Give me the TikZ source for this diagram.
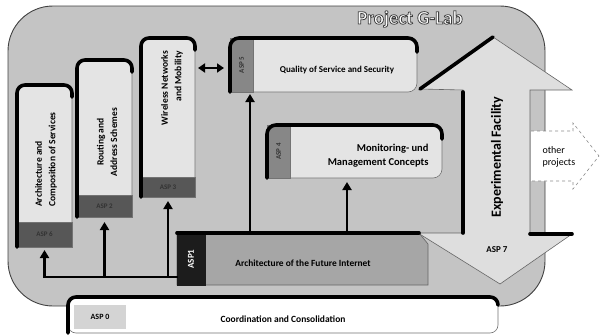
\documentclass[tikz,border=0pt]{standalone}
\usepackage{fontspec}
\setmainfont{Carlito}
\usetikzlibrary{arrows.meta,calc}

\definecolor{framefill}{HTML}{C4C4C4}
\definecolor{boxfill}{HTML}{E4E4E4}
\definecolor{facfill}{HTML}{DEDEDE}
\definecolor{tabdark}{HTML}{575757}
\definecolor{tabmid}{HTML}{878787}
\definecolor{asponefill}{HTML}{A6A6A6}
\definecolor{asponetab}{HTML}{1C1C1C}
\definecolor{tablight}{HTML}{D4D4D4}

% white letters with a thin dark stroke (text render mode 2)
\newcommand{\outlinedtext}[1]{%
  \special{pdf:literal direct 0.25 G 0.8 w 2 Tr}#1\special{pdf:literal direct 0 Tr}}

\begin{document}
\begin{tikzpicture}[x=1pt,y=-1pt,
  panel/.style={draw=black!55, line width=0.6pt, anchor=north west, inner sep=0pt, outer sep=0pt},
  rim/.style={line width=3.6pt, black, line join=round, line cap=round},
  link/.style={line width=2.4pt, black},
  uptip/.style={-{Triangle[width=9pt,length=8pt]}},
  vlabel/.style={rotate=90, font=\fontsize{9.5}{13.5}\selectfont\bfseries, inner sep=0pt},
  tablabel/.style={font=\fontsize{7}{8}\selectfont\bfseries, text=black!80, inner sep=0pt},
  titlefont/.style={font=\fontsize{19}{21}\selectfont\bfseries, inner sep=0pt},
]
\useasboundingbox (0,0) rectangle (600,335);

% project frame
\node[panel, draw=black!75, line width=0.9pt, fill=framefill, rounded corners=45pt,
      minimum width=537pt, minimum height=300pt] (frame) at (8,6) {};

% title
\node[titlefont, text=white] (title) at (410,19) {\outlinedtext{Project G-Lab}};

% experimental facility: double arrow
\path[fill=facfill, draw=black!60, line width=0.6pt]
  (463,90) -- (420,89) -- (493,37) -- (572,90) -- (530,90) -- (530,234)
  -- (572,234) -- (500,284) -- (418,233) -- (463,233) -- cycle;
\draw[rim] (420,89) -- (493,37);
\draw[rim] (463,92) -- (463,233);
\draw[rim] (530,234) -- (572,234);
\node[rotate=90, font=\fontsize{14}{16}\selectfont\bfseries] (expfac) at (497,157) {Experimental Facility};
\node[font=\fontsize{9}{10}\selectfont\bfseries] (asp7) at (497,250) {ASP 7};

% other projects
\path[fill=white, draw=black!45, dashed, line width=0.6pt]
  (531,131) -- (573,131) -- (573,123) -- (599,156) -- (573,189) -- (573,181) -- (531,181);
\node[align=left, anchor=west, font=\fontsize{10}{12}\selectfont] (other) at (539,157) {other\\projects};

% Architecture and Composition of Services
\node[panel, fill=boxfill, rounded corners=8pt, minimum width=55pt, minimum height=162pt] (arch) at (17,85) {};
\node[panel, fill=tabdark, anchor=south west, minimum width=55pt, minimum height=25pt] (archtab) at (arch.south west) {};
\draw[rim, rounded corners=8pt] (archtab.south west) -- (arch.north west) -- (arch.north east) -- ++(0,12);
\node[vlabel, align=left, anchor=west] (archtxt) at (46,207) {Architecture and\\Composition of Services};
\node[tablabel] (archasp) at (archtab.center) {ASP 6};

% Routing and Address Schemes
\node[panel, fill=boxfill, rounded corners=8pt, minimum width=55pt, minimum height=157pt] (rout) at (77,60) {};
\node[panel, fill=tabdark, anchor=south west, minimum width=55pt, minimum height=22pt] (routtab) at (rout.south west) {};
\draw[rim, rounded corners=8pt] (routtab.south west) -- (rout.north west) -- (rout.north east) -- ++(0,12);
\node[vlabel, align=center] (routtxt) at (107,142) {Routing and\\Address Schemes};
\node[tablabel] (routasp) at (routtab.center) {ASP 2};

% Wireless Networks and Mobility
\node[panel, fill=boxfill, rounded corners=8pt, minimum width=54pt, minimum height=159pt] (wless) at (141,38) {};
\node[panel, fill=tabdark, anchor=south west, minimum width=54pt, minimum height=20pt] (wlesstab) at (wless.south west) {};
\draw[rim, rounded corners=8pt] (wlesstab.south west) -- (wless.north west) -- (wless.north east) -- ++(0,12);
\node[vlabel, align=right, anchor=east] (wlesstxt) at (172,51) {Wireless Networks\\and Mobility};
\node[tablabel] (wlessasp) at (wlesstab.center) {ASP 3};

% Quality of Service and Security
\node[panel, fill=boxfill, rounded corners=9pt, minimum width=187pt, minimum height=54pt] (qos) at (230,38) {};
\node[panel, fill=tabmid, minimum width=23pt, minimum height=54pt] (qostab) at (qos.north west) {};
\draw[rim, rounded corners=9pt] (qos.south west) -- (qos.north west) -- (qos.north east) -- ++(0,14);
\node[font=\fontsize{9}{11}\selectfont\bfseries] (qostxt) at (337,70) {Quality of Service and Security};
\node[tablabel, rotate=90] (qosasp) at (qostab.center) {ASP 5};

% Monitoring and Management Concepts
\node[panel, fill=boxfill, rounded corners=9pt, minimum width=175pt, minimum height=53pt] (mon) at (267,125) {};
\node[panel, fill=tabmid, minimum width=23pt, minimum height=53pt] (montab) at (mon.north west) {};
\draw[rim, rounded corners=9pt] (mon.south west) -- (mon.north west) -- (mon.north east) -- ++(0,14);
\node[align=right, anchor=east, font=\fontsize{10.5}{14}\selectfont\bfseries] (montxt) at (432,156) {Monitoring- und\\Management Concepts};
\node[tablabel, rotate=90] (monasp) at (montab.center) {ASP 4};

% Architecture of the Future Internet
\node[inner sep=0pt, outer sep=0pt, anchor=north west, minimum width=251pt, minimum height=52pt] (asp1) at (177,233) {};
\path[fill=asponefill, draw=black!60, line width=0.6pt]
  (asp1.south west) -- (asp1.north west) -- ($(asp1.north east)+(-9,0)$)
  -- ($(asp1.north east)+(0,11)$) -- (asp1.south east) -- cycle;
\node[panel, fill=asponetab, draw=asponetab, minimum width=28pt, minimum height=52pt] (asp1tab) at (asp1.north west) {};
\draw[rim] (asp1.north west) -- ($(asp1.north east)+(-9,0)$);
\node[rotate=90, font=\fontsize{9}{10}\selectfont\bfseries, text=white] (asp1lbl) at (asp1tab.center) {ASP1};
\node[font=\fontsize{9.4}{11}\selectfont\bfseries] (asp1txt) at (303,263) {Architecture of the Future Internet};

% connectors from ASP1
\coordinate (busR) at ($(asp1.south west)+(0,-8)$);
\draw[link, line cap=rect] (busR) -- (archtab.south |- busR);
\draw[link, uptip, shorten >=3pt] (archtab.south |- busR) -- (archtab.south);
\draw[link, uptip, shorten >=5pt] (routtab.south |- busR) -- (routtab.south);
\draw[link, uptip, shorten >=4pt] (wlesstab.south |- busR) -- (wlesstab.south);
\path (qos.south west) ++(20,0) coordinate (qosin);
\draw[link, uptip, shorten >=2pt] (qosin |- asp1.north) -- (qosin);
\path (mon.south west) ++(80,0) coordinate (monin);
\draw[link, uptip, shorten >=4pt] (monin |- asp1.north) -- (monin);
\draw[link, {Triangle[width=9pt,length=7pt]}-{Triangle[width=9pt,length=7pt]}]
  ($(wless.north east)+(3,30)$) -- ($(qos.north west)+(-6,30)$);

% Coordination and Consolidation
\node[panel, fill=white, rounded corners=8pt, minimum width=430pt, minimum height=36pt] (coord) at (68,297) {};
\draw[rim, rounded corners=8pt] (coord.south west) -- (coord.north west) -- (coord.north east) -- ++(0,8);
\node[panel, fill=tablight, draw=none, minimum width=52pt, minimum height=24pt] (coordtab) at (74,305) {};
\node[font=\fontsize{8}{9}\selectfont\bfseries] (coordasp) at (coordtab.center) {ASP 0};
\node[font=\fontsize{9.5}{11}\selectfont\bfseries] (coordtxt) at (283,319) {Coordination and Consolidation};
\end{tikzpicture}
\end{document}
